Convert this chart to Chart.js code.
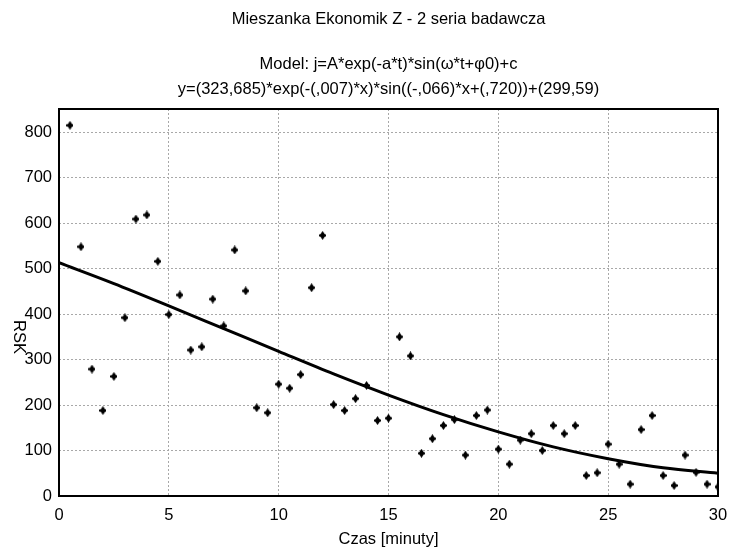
<!DOCTYPE html>
<html><head><meta charset="utf-8">
<script src="https://cdn.jsdelivr.net/npm/chart.js@4"></script>
<style>html,body{margin:0;padding:0;background:#fff}canvas{display:block}</style>
</head><body>
<canvas id="c" width="731" height="554"></canvas>
<script>
const titleLines = ["Mieszanka Ekonomik Z - 2 seria badawcza"];
const subtitleLines = ["Model: j=A*exp(-a*t)*sin(\u03C9*t+\u03C60)+c", "y=(323,685)*exp(-(,007)*x)*sin((-,066)*x+(,720))+(299,59)"];
const xTitle = "Czas [minuty]";
const yTitle = "RSK";
const czas = [0.5,1,1.5,2,2.5,3,3.5,4,4.5,5,5.5,6,6.5,7,7.5,8,8.5,9,9.5,10,10.5,11,11.5,12,12.5,13,13.5,14,14.5,15,15.5,16,16.5,17,17.5,18,18.5,19,19.5,20,20.5,21,21.5,22,22.5,23,23.5,24,24.5,25,25.5,26,26.5,27,27.5,28,28.5,29,29.5,30];
const rsk = [815,548,279,188,263,392,609,618,516,399,442,321,328,433,374,541,451,194,183,246,237,267,458,573,201,188,214,243,166,171,350,308,94,126,155,168,90,177,189,103,70,123,137,100,155,137,155,45,51,114,70,26,146,177,45,23,90,52,26,20];
const fitX = [0,2.5,5,7.5,10,12.5,15,17.5,20,22.5,25,27.5,30];
const fitY = [513,467,418,368,318,268.5,222,179,141,108,82,62,50];
const xTicks = [0,5,10,15,20,25,30];
const yTicks = [0,100,200,300,400,500,600,700,800];

const FONT = "'Liberation Sans', Arial, sans-serif";
const FS = 16.5;

const textPlugin = {
  id: 'texts',
  afterDraw(chart) {
    const ctx = chart.ctx, a = chart.chartArea;
    ctx.save();
    ctx.strokeStyle = '#000';
    ctx.lineWidth = 2;
    ctx.strokeRect(a.left, a.top, a.right - a.left, a.bottom - a.top);
    ctx.fillStyle = '#000';
    ctx.font = FS + 'px ' + FONT;
    ctx.textAlign = 'center';
    ctx.textBaseline = 'middle';
    const cx = (a.left + a.right) / 2;
    ctx.fillText(titleLines[0], cx, 19);
    ctx.fillText(subtitleLines[0], cx, 64);
    ctx.fillText(subtitleLines[1], cx, 89);
    ctx.fillText(xTitle, cx, 539);
    ctx.translate(19, 337);
    ctx.rotate(Math.PI / 2);
    ctx.fillText(yTitle, 0, 0);
    ctx.restore();
  }
};

const diamond = (() => {
  const c = document.createElement('canvas');
  c.width = 7; c.height = 9;
  const g = c.getContext('2d');
  g.fillStyle = '#000';
  g.beginPath();
  g.moveTo(3.5, 0); g.lineTo(6.5, 4.5); g.lineTo(3.5, 9); g.lineTo(0.5, 4.5); g.closePath();
  g.fill();
  g.fillRect(0, 3.5, 7, 2);
  return c;
})();

new Chart(document.getElementById('c'), {
  type: 'scatter',
  data: {
    datasets: [
      {
        label: 'RSK',
        data: czas.map((x, i) => ({x, y: rsk[i]})),
        pointStyle: diamond,
        pointRadius: 4,
        backgroundColor: '#000',
        borderColor: '#000',
        order: 2
      },
      {
        label: 'fit',
        data: fitX.map((x, i) => ({x, y: fitY[i]})),
        showLine: true,
        pointRadius: 0,
        borderColor: '#000',
        borderWidth: 3,
        cubicInterpolationMode: 'monotone',
        fill: false,
        order: 1
      }
    ]
  },
  options: {
    responsive: false,
    animation: false,
    layout: { padding: { top: 109, right: 13, left: 0, bottom: 0 } },
    plugins: { legend: { display: false }, tooltip: { enabled: false }, title: { display: false } },
    scales: {
      x: {
        type: 'linear', min: 0, max: 30,
        afterBuildTicks: s => { s.ticks = xTicks.map(v => ({value: v})); },
        afterFit: s => { s.height = 58; s.paddingLeft = 0; s.paddingRight = 0; },
        grid: { color: '#a8a8a8', lineWidth: 1, drawTicks: false },
        border: { display: false, dash: [2, 2] },
        ticks: { color: '#000', font: { family: FONT, size: FS }, padding: 10, maxRotation: 0 }
      },
      y: {
        type: 'linear', min: 0, max: 851,
        afterBuildTicks: s => { s.ticks = yTicks.map(v => ({value: v})); },
        afterFit: s => { s.width = 59; s.paddingTop = 0; s.paddingBottom = 0; },
        grid: { color: '#a8a8a8', lineWidth: 1, drawTicks: false },
        border: { display: false, dash: [2, 2] },
        ticks: { color: '#000', font: { family: FONT, size: FS }, padding: 7 }
      }
    }
  },
  plugins: [textPlugin]
});
</script>
</body></html>
